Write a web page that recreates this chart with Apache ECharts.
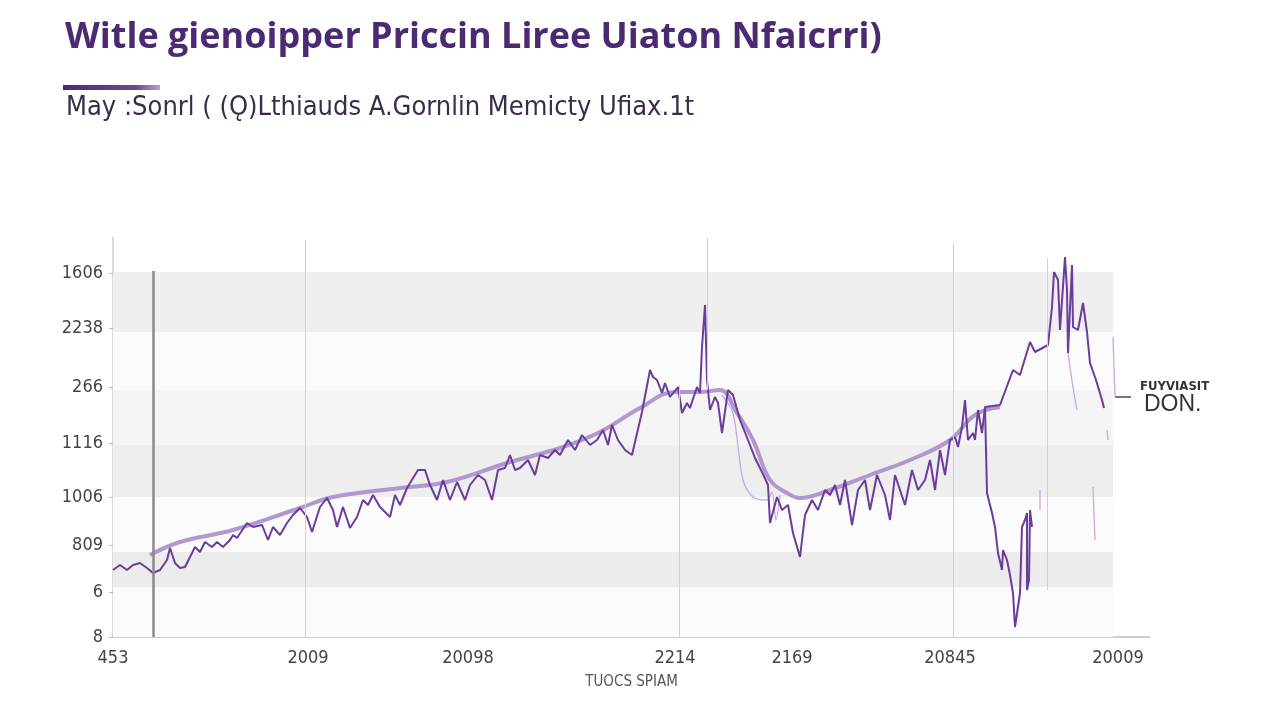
<!DOCTYPE html>
<html><head><meta charset="utf-8">
<script src="https://cdn.jsdelivr.net/npm/echarts@6/dist/echarts.min.js"></script>
<style>html,body{margin:0;padding:0;background:#fff}#c{width:1280px;height:720px}</style>
</head><body><div id="c"></div>
<script>
const titleText = "Witle gienoipper Priccin Liree Uiaton Nfaicrri)";
const subtitleText = "May :Sonrl ( (Ǫ)Lthiauds A.Gornlin Memicty Ufiax.1t";
const xAxisName = "TUOCS SPIAM";
const xTickValues = [0, 19.5, 35.5, 56.2, 67.9, 83.7, 100.5];
const xTickLabels = ["453", "2009", "20098", "2214", "2169", "20845", "20009"];
const yTickValues = [0, 4.5, 9.2, 14.0, 19.4, 25.0, 30.9, 36.4];
const yTickLabels = ["8", "6", "809", "1006", "1116", "266", "2238", "1606"];

const mainSeries = [[0,6.7],[0.7,7.2],[1.4,6.7],[2.0,7.2],[2.7,7.4],[3.4,6.9],[4.0,6.4],[4.7,6.7],[5.4,7.7],[5.7,8.9],[6.2,7.4],[6.7,6.9],[7.2,7.0],[7.7,8.0],[8.2,9.0],[8.7,8.5],[9.2,9.5],[9.9,9.0],[10.4,9.5],[11.0,9.0],[11.7,9.7],[12.0,10.2],[12.4,9.9],[13.4,11.4],[14.0,11.0],[14.9,11.2],[15.5,9.7],[16.0,11.0],[16.7,10.2],[17.4,11.4],[18.0,12.2],[18.7,12.9],[19.4,12.0],[19.9,10.5],[20.7,13.0],[21.4,13.9],[22.0,12.7],[22.4,11.0],[23.0,13.0],[23.7,10.9],[24.4,12.0],[25.0,13.7],[25.5,13.2],[26.0,14.2],[26.7,13.0],[27.7,12.0],[28.2,14.2],[28.7,13.2],[29.4,14.9],[30.5,16.7],[31.2,16.7],[31.7,15.2],[32.4,13.7],[33.0,15.7],[33.7,13.7],[34.4,15.5],[35.2,13.7],[35.7,15.2],[36.5,16.2],[37.2,15.7],[37.9,13.7],[38.5,16.7],[39.2,16.9],[39.7,18.2],[40.2,16.7],[40.7,16.9],[41.5,17.7],[42.2,16.2],[42.7,18.2],[43.5,17.9],[44.2,18.7],[44.7,18.2],[45.5,19.7],[46.2,18.7],[46.9,20.2],[47.7,19.2],[48.4,19.7],[49.0,20.7],[49.5,19.2],[49.9,21.2],[50.5,19.7],[51.2,18.7],[51.9,18.2],[52.9,22.5],[53.7,26.7],[54.0,26.0],[54.4,25.7],[54.9,24.4],[55.2,25.4],[55.7,24.0],[56.5,25.0],[56.9,22.4],[57.4,23.4],[57.7,22.9],[58.4,25.0],[58.7,24.4],[58.9,29.0],[59.2,33.2],[59.4,25.7],[59.7,22.7],[60.2,24.0],[60.5,23.4],[60.9,20.4],[61.5,24.7],[62.0,24.2],[62.7,21.7],[63.5,19.7],[64.2,17.9],[64.9,16.5],[65.5,15.2],[65.7,11.4],[66.4,14.0],[66.9,12.7],[67.5,13.2],[68.0,10.4],[68.7,8.0],[69.2,12.2],[69.9,13.7],[70.5,12.7],[71.2,14.7],[71.7,14.2],[72.2,15.2],[72.7,13.2],[73.2,15.7],[73.9,11.2],[74.5,14.7],[75.2,15.7],[75.7,12.7],[76.4,16.2],[77.2,14.2],[77.7,11.7],[78.2,16.2],[78.7,14.7],[79.2,13.2],[79.9,16.7],[80.5,14.7],[81.2,15.7],[81.7,17.7],[82.2,14.7],[82.7,18.7],[83.2,16.2],[83.7,19.7],[84.2,20.0],[84.5,19.0],[84.9,21.0],[85.2,23.7],[85.5,19.7],[86.0,20.4],[86.2,19.7],[86.5,22.7],[86.9,20.4],[87.2,23.0],[88.7,23.2],[90.0,26.7],[90.7,26.2],[91.7,29.5],[92.2,28.5],[93.5,29.2],[93.9,33.0],[94.1,36.5],[94.5,35.7],[94.7,30.7],[95.2,38.0],[95.4,34.7],[95.5,28.4],[95.9,37.2],[96.0,31.0],[96.5,30.7],[97.0,33.4],[97.4,30.5],[97.7,27.4],[98.3,25.7],[98.9,23.7],[99.1,22.9]];

const dropSeries = [[87.2,23.0],[87.4,14.4],[87.9,12.4],[88.2,11.0],[88.5,8.4],[88.9,6.7],[89.0,8.7],[89.4,7.7],[89.7,6.2],[90.0,4.4],[90.2,1.0],[90.4,1.0],[90.6,3.7],[90.7,4.4],[90.9,11.0],[91.2,11.7],[91.4,12.4],[91.4,4.7],[91.6,5.7],[91.7,12.7],[91.9,11.0]];

const trendSeries = [[3.7,8.2],[6.7,9.5],[12.0,10.7],[18.7,12.9],[22.0,14.0],[28.7,14.9],[33.4,15.5],[39.7,17.5],[44.7,18.9],[48.7,20.5],[52.7,22.9],[56.2,24.5],[58.7,24.5],[60.7,24.7],[62.4,22.4],[64.0,19.7],[65.7,15.7],[67.4,14.4],[68.7,13.9],[71.7,14.7],[75.7,16.2],[79.7,17.7],[83.7,19.7],[86.2,22.2],[88.7,23.0]];

const faintA = [[60.9,24.2],[62.0,22.4],[63.0,15.7],[64.0,14.0],[65.4,13.7],[65.9,14.5],[66.3,11.7],[66.7,14.2]];
const faintB = [[95.5,28.4],[96.0,25.0],[96.4,22.7]];
const faintC = [[98.0,15.0],[98.2,9.7]];
const faintD = [[100.0,30.0],[100.2,24.0]];
const faintE = [[99.4,20.7],[99.5,19.7]];
const faintF = [[92.7,14.7],[92.7,12.7]];

const bandRanges = [[30.5,36.5,"#efefef"],[19.2,24.7,"#f4f4f4"],[14.0,19.2,"#eeeeee"],[5.0,8.5,"#ececec"]];
const bandEndX = 100;
const vLines = [[4.0,0,36.6,"#8a8a8a",2.5],[19.2,0,39.7,"#d0d0d0",1],[56.6,0,25.2,"#d0d0d0",1],[59.4,24.7,39.9,"#d0d0d0",1],[84.0,0,39.4,"#d0d0d0",1],[93.4,4.7,37.9,"#d0d0d0",1]];

const chart = echarts.init(document.getElementById('c'));
const faintList = [faintA, faintB, faintC, faintD, faintE, faintF];
const series = [
  {type:'line', data: [], silent:true,
   markArea:{silent:true, data:[[{xAxis:0,yAxis:0,itemStyle:{color:'#fbfbfb'}},{xAxis:bandEndX,yAxis:36.5}]].concat(
     bandRanges.map(b=>[{xAxis:0,yAxis:b[0],itemStyle:{color:b[2]}},{xAxis:bandEndX,yAxis:b[1]}]))},
   markLine:{silent:true, symbol:['none','none'], label:{show:false},
     data: vLines.map(v=>[{coord:[v[0],v[1]],lineStyle:{color:v[3],width:v[4],type:'solid'}},{coord:[v[0],v[2]]}])}
  },
  {type:'line', data: trendSeries, smooth:0.4, symbol:'none', lineStyle:{color:'#a98dcb', width:4, opacity:0.9}, z:3},
  {type:'line', data: mainSeries, symbol:'none', lineStyle:{color:'#6b3c9b', width:2}, z:4},
  {type:'line', data: dropSeries, symbol:'none', lineStyle:{color:'#6b3c9b', width:2}, z:4}
].concat(faintList.map(f=>({type:'line', data:f, symbol:'none', smooth:0.3, lineStyle:{color:'#c6a9de', width:1.3}, z:2})));

chart.setOption({
  animation:false,
  backgroundColor:'#ffffff',
  title:[
    {text:titleText, left:60, top:15, textStyle:{fontFamily:'Open Sans', fontSize:36, fontWeight:'bold', color:'#4b2a72'}},
    {text:subtitleText, left:61, top:89, textStyle:{fontFamily:'DejaVu Sans Condensed', fontSize:27, fontWeight:'normal', color:'#3b2c4c'}}
  ],
  graphic:[
    {type:'rect', left:63, top:85, shape:{width:97, height:5}, style:{fill:new echarts.graphic.LinearGradient(0,0,1,0,[{offset:0,color:'#4b2a72'},{offset:0.75,color:'#6a4a8e'},{offset:1,color:'#b6a3cc'}])}},
    {type:'line', shape:{x1:1115,y1:397,x2:1131,y2:397}, style:{stroke:'#777', lineWidth:2}},
    {type:'text', left:1140, top:380, style:{text:'FUYVIASIT', fontFamily:'DejaVu Sans Condensed', fontSize:13, fontWeight:'bold', fill:'#333'}},
    {type:'text', left:1144, top:393, style:{text:'DON.', fontFamily:'Liberation Sans', fontSize:23, fill:'#333'}}
  ],
  grid:{left:113, right:130, top:237, bottom:83},
  xAxis:{type:'value', min:0, max:103.7, name:xAxisName, nameLocation:'middle', nameGap:38,
    nameTextStyle:{fontFamily:'DejaVu Sans Condensed', fontSize:15, color:'#555'},
    axisLine:{show:true, onZero:false, lineStyle:{color:'#bdbdbd', width:1.5}},
    axisTick:{show:false},
    splitLine:{show:false},
    axisLabel:{customValues:xTickValues, formatter:(v)=>{const i=xTickValues.indexOf(v); return i>=0?xTickLabels[i]:'';}, fontFamily:'DejaVu Sans Condensed', fontSize:18, color:'#444', margin:12}
  },
  yAxis:{type:'value', min:0, max:40,
    axisLine:{show:true, lineStyle:{color:'#cfcfcf', width:1.5}},
    axisTick:{show:true, length:4, customValues:yTickValues, lineStyle:{color:'#bbb'}},
    splitLine:{show:false},
    axisLabel:{customValues:yTickValues, formatter:(v)=>{const i=yTickValues.indexOf(v); return i>=0?yTickLabels[i]:'';}, fontFamily:'DejaVu Sans Condensed', fontSize:18, color:'#444', margin:10}
  },
  series: series
});
</script></body></html>
